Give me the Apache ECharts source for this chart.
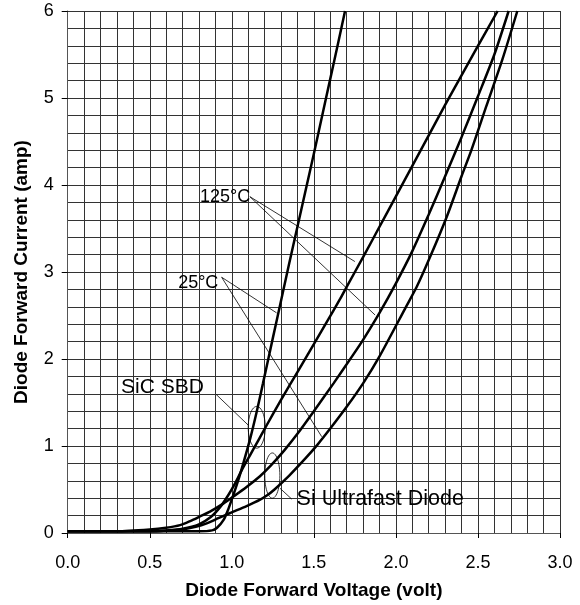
<!DOCTYPE html>
<html>
<head>
<meta charset="utf-8">
<script src="https://cdn.jsdelivr.net/npm/echarts@6/dist/echarts.min.js"></script>
<style>
html,body{margin:0;padding:0;background:#fff;}
#chart{width:580px;height:605px;}
</style>
</head>
<body>
<div id="chart"></div>
<script>
// ---- Data (voltage in V, current in A) ----
var sic25V = [0, 0.5, 0.8, 0.88, 0.91, 0.95, 0.98, 1.01, 1.04, 1.07, 1.11, 1.15, 1.19, 1.25, 1.30, 1.35, 1.40, 1.45, 1.50, 1.55, 1.60, 1.65, 1.69];
var sic25I = [0.02, 0.02, 0.02, 0.03, 0.06, 0.15, 0.28, 0.44, 0.61, 0.80, 1.07, 1.38, 1.72, 2.24, 2.67, 3.10, 3.52, 3.94, 4.36, 4.79, 5.22, 5.65, 6.0];

var sic125V = [0, 0.5, 0.6, 0.7, 0.8, 0.87, 0.93, 0.98, 1.02, 1.06, 1.11, 1.16, 1.21, 1.30, 1.40, 1.50, 1.58, 1.66, 1.70, 1.80, 1.90, 2.0, 2.1, 2.2, 2.3, 2.4, 2.5, 2.62];
var sic125I = [0.02, 0.02, 0.03, 0.05, 0.10, 0.18, 0.30, 0.44, 0.57, 0.72, 0.89, 1.06, 1.23, 1.53, 1.85, 2.17, 2.43, 2.69, 2.83, 3.17, 3.52, 3.87, 4.22, 4.57, 4.92, 5.26, 5.60, 6.0];

var si125V = [0, 0.3, 0.5, 0.6, 0.685, 0.75, 0.806, 0.867, 0.95, 1.01, 1.09, 1.17, 1.24, 1.32, 1.40, 1.50, 1.62, 1.74, 1.80, 1.90, 2.0, 2.1, 2.2, 2.3, 2.4, 2.5, 2.6, 2.687];
var si125I = [0.02, 0.02, 0.04, 0.06, 0.09, 0.14, 0.19, 0.245, 0.34, 0.42, 0.53, 0.65, 0.78, 0.95, 1.14, 1.40, 1.72, 2.05, 2.22, 2.53, 2.87, 3.24, 3.66, 4.10, 4.55, 5.02, 5.50, 6.0];

var si25V = [0, 0.5, 0.6, 0.7, 0.78, 0.847, 0.918, 0.99, 1.09, 1.17, 1.213, 1.26, 1.35, 1.45, 1.52, 1.60, 1.70, 1.80, 1.90, 2.056, 2.127, 2.21, 2.31, 2.40, 2.46, 2.55, 2.65, 2.74];
var si25I = [0.02, 0.02, 0.025, 0.04, 0.07, 0.11, 0.17, 0.23, 0.31, 0.38, 0.43, 0.50, 0.66, 0.86, 1.01, 1.20, 1.45, 1.72, 2.03, 2.58, 2.83, 3.18, 3.635, 4.10, 4.40, 4.90, 5.45, 6.0];

// ---- Axis ticks ----
var xTicks = [0, 0.5, 1.0, 1.5, 2.0, 2.5, 3.0];
var yTicks = [0, 1, 2, 3, 4, 5, 6];

// ---- Annotations (data coordinates) ----
var annoTexts = [
  {text: '125°C', x: 1.112, y: 3.86, align: 'right', size: 18},
  {text: '25°C', x: 0.918, y: 2.87, align: 'right', size: 18},
  {text: 'SiC SBD', x: 0.83, y: 1.672, align: 'right', size: 21},
  {text: 'Si Ultrafast Diode', x: 1.395, y: 0.39, align: 'left', size: 21.5}
];
var leaderLines = [
  [[1.11, 3.866], [1.75, 3.12]],
  [[1.11, 3.866], [1.873, 2.506]],
  [[0.938, 2.94], [1.273, 2.53]],
  [[0.938, 2.94], [1.548, 1.107]],
  [[0.904, 1.594], [1.10, 1.24]],
  [[1.294, 0.514], [1.365, 0.39]]
];
// ellipses: center x, center y, half-width (V), half-height (A)
var ellipses = [
  [1.152, 1.215, 0.052, 0.24],
  [1.247, 0.66, 0.046, 0.26]
];

function pairs(v, i) { return v.map(function (x, k) { return [x, i[k]]; }); }

var FONT = '"Liberation Sans", Arial, sans-serif';
var chart = echarts.init(document.getElementById('chart'), null, {renderer: 'canvas'});

var curveStyle = {color: '#000', width: 2.5};
function curve(name, v, i) {
  return {
    name: name, type: 'line', data: pairs(v, i), showSymbol: false, symbol: 'none',
    smooth: 0.25, lineStyle: curveStyle, silent: true, z: 5, clip: true
  };
}

var series = [
  curve('SiC SBD 25°C', sic25V, sic25I),
  curve('SiC SBD 125°C', sic125V, sic125I),
  curve('Si Ultrafast 125°C', si125V, si125I),
  curve('Si Ultrafast 25°C', si25V, si25I)
];

leaderLines.forEach(function (seg, k) {
  series.push({
    name: 'leader' + k, type: 'line', data: seg, showSymbol: false, symbol: 'none',
    lineStyle: {color: '#000', width: 0.8}, silent: true, z: 4
  });
});

series.push({
  type: 'custom', name: 'ellipses', data: ellipses, silent: true, z: 6,
  renderItem: function (params, api) {
    var c = api.coord([api.value(0), api.value(1)]);
    var e = api.coord([api.value(0) + api.value(2), api.value(1) + api.value(3)]);
    var rx = Math.abs(e[0] - c[0]), ry = Math.abs(e[1] - c[1]);
    var pts = [];
    for (var t = 0; t <= 48; t++) {
      var a = t / 48 * Math.PI * 2;
      pts.push([c[0] + rx * Math.cos(a), c[1] + ry * Math.sin(a)]);
    }
    return {type: 'polygon', shape: {points: pts}, style: {fill: 'none', stroke: '#000', lineWidth: 0.8}};
  }
});

series.push({
  type: 'custom', name: 'labels', data: annoTexts.map(function (a) { return [a.x, a.y]; }), silent: true, z: 7,
  renderItem: function (params, api) {
    var a = annoTexts[params.dataIndex];
    var p = api.coord([api.value(0), api.value(1)]);
    return {type: 'text', x: p[0], y: p[1], style: {
      text: a.text, fill: '#000', font: a.size + 'px ' + FONT,
      align: a.align, verticalAlign: 'middle'
    }};
  }
});

var gridLine = {show: true, lineStyle: {color: '#333', width: 1}};

chart.setOption({
  animation: false,
  backgroundColor: '#fff',
  grid: {left: 67.7, right: 20, top: 11, bottom: 72, containLabel: false},
  xAxis: {
    type: 'value', min: 0, max: 3, interval: 0.5,
    name: 'Diode Forward Voltage (volt)', nameLocation: 'middle', nameGap: 48,
    nameTextStyle: {fontFamily: FONT, fontWeight: 'bold', fontSize: 19, color: '#000'},
    axisLine: {show: true, onZero: false, lineStyle: {color: '#555', width: 1}},
    axisTick: {show: true, length: 5, lineStyle: {color: '#000'}},
    axisLabel: {fontFamily: FONT, fontSize: 18, color: '#000', margin: 21,
      formatter: function (v) { return xTicks.indexOf(v) >= 0 ? v.toFixed(1) : ''; }},
    splitLine: gridLine,
    minorTick: {show: false, splitNumber: 5},
    minorSplitLine: gridLine
  },
  yAxis: {
    type: 'value', min: 0, max: 6, interval: 1,
    name: 'Diode Forward Current (amp)', nameLocation: 'middle', nameGap: 36,
    nameTextStyle: {fontFamily: FONT, fontWeight: 'bold', fontSize: 19, color: '#000'},
    axisLine: {show: true, onZero: false, lineStyle: {color: '#555', width: 1}},
    axisTick: {show: true, length: 6, lineStyle: {color: '#000'}},
    axisLabel: {fontFamily: FONT, fontSize: 18, color: '#000', margin: 14,
      formatter: function (v) { return yTicks.indexOf(v) >= 0 ? String(v) : ''; }},
    splitLine: gridLine,
    minorTick: {show: false, splitNumber: 5},
    minorSplitLine: gridLine
  },
  series: series
});
</script>
</body>
</html>
